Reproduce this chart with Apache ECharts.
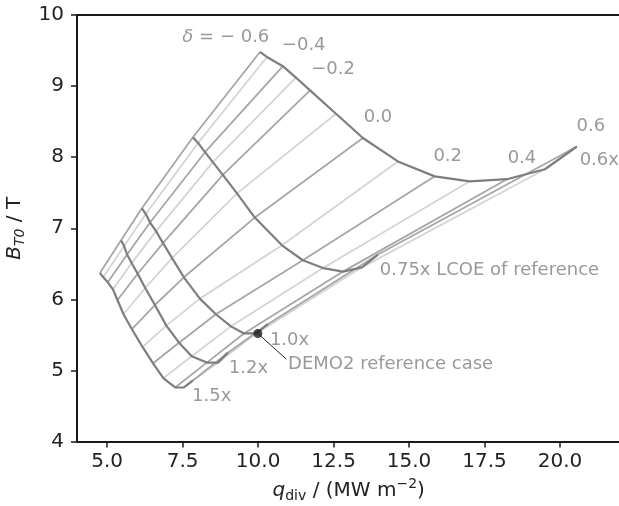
<!DOCTYPE html>
<html><head><meta charset="utf-8">
<script src="https://cdn.jsdelivr.net/npm/echarts@6/dist/echarts.min.js"></script>
<style>html,body{margin:0;padding:0;background:#fff}#c{width:619px;height:506px}</style>
</head><body><div id="c"></div>
<script>
const deltas = [-0.6,-0.5,-0.4,-0.3,-0.2,-0.1,0.0,0.1,0.2,0.3,0.4,0.5,0.6];
const levelNames = ['1.5x','1.2x','1.0x','0.75x','0.6x'];
const q15 = [4.76,4.87,5.02,5.19,5.34,5.54,5.82,6.17,6.52,6.86,7.25,7.54,7.84];
const B15 = [6.37,6.31,6.24,6.14,5.99,5.79,5.58,5.33,5.10,4.89,4.76,4.76,4.86];
const q12 = [5.46,5.56,5.66,5.81,6.01,6.26,6.58,6.96,7.38,7.80,8.30,8.67,9.00];
const B12 = [6.83,6.75,6.63,6.51,6.36,6.16,5.92,5.63,5.39,5.20,5.11,5.11,5.25];
const q10 = [6.15,6.28,6.42,6.62,6.85,7.15,7.54,8.07,8.60,9.10,9.53,9.93,10.32];
const B10 = [7.28,7.20,7.08,6.96,6.79,6.58,6.31,6.01,5.79,5.62,5.52,5.52,5.65];
const q075 = [7.84,8.01,8.24,8.50,8.83,9.30,9.89,10.79,11.48,12.15,12.81,13.44,13.97];
const B075 = [8.28,8.20,8.07,7.93,7.75,7.49,7.15,6.76,6.55,6.44,6.39,6.45,6.63];
const q06 = [10.06,10.29,10.82,11.25,11.72,12.58,13.47,14.63,15.85,17.01,18.24,19.50,20.56];
const B06 = [9.48,9.41,9.28,9.12,8.94,8.61,8.27,7.94,7.73,7.66,7.69,7.83,8.15];

const xTicks = [5.0,7.5,10.0,12.5,15.0,17.5,20.0];
const yTicks = [4,5,6,7,8,9,10];

const demoPoint = [9.99, 5.52];
const demoLeader = [[9.99,5.52],[10.93,5.16]];
const deltaLabels = [
  {t:'delta', x:8.93, y:9.68},
  {t:'−0.4', x:11.51, y:9.58},
  {t:'−0.2', x:12.48, y:9.23},
  {t:'0.0', x:13.97, y:8.56},
  {t:'0.2', x:16.28, y:8.01},
  {t:'0.4', x:18.74, y:7.99},
  {t:'0.6', x:21.02, y:8.44}
];
const levelLabels = [
  {t:'0.6x', x:20.65, y:7.96},
  {t:'0.75x LCOE of reference', x:14.03, y:6.41},
  {t:'1.0x', x:10.39, y:5.42},
  {t:'1.2x', x:9.03, y:5.03},
  {t:'1.5x', x:7.81, y:4.64},
  {t:'DEMO2 reference case', x:10.99, y:5.08}
];

const Q = [q15,q12,q10,q075,q06];
const B = [B15,B12,B10,B075,B06];
const FONT = 'DejaVu Sans';
const series = [];
[1,0].forEach(par => {
  deltas.forEach((d,i) => {
    if (i % 2 !== par) return;
    series.push({
      type:'line', silent:true, symbol:'none', animation:false,
      data: Q.map((qa,k)=>[qa[i], B[k][i]]),
      lineStyle:{color: par===0 ? '#a6a6a6' : '#d4d4d4', width:1.8},
      z: par===0 ? 3 : 2
    });
  });
});
Q.forEach((qa,k) => {
  series.push({
    type:'line', silent:true, symbol:'none', animation:false,
    data: qa.map((q,i)=>[q, B[k][i]]),
    lineStyle:{color:'#7e7e7e', width:2.2}, z:4
  });
});
series.push({type:'line', symbol:'none', animation:false, data:demoLeader,
  lineStyle:{color:'#222', width:1}, z:5});
series.push({type:'scatter', animation:false, data:[demoPoint], symbolSize:9,
  itemStyle:{color:'#1a1a1a'}, z:6});
series.push({type:'scatter', animation:false, symbolSize:0, z:7,
  data: deltaLabels.map(l=>({value:[l.x,l.y], name:l.t})),
  label:{show:true, position:'inside', fontFamily:FONT, fontSize:18, color:'#808080',
    formatter: p => p.name==='delta' ? '{i|δ} = − 0.6' : p.name,
    rich:{i:{fontStyle:'italic', fontFamily:FONT, fontSize:18, color:'#808080'}}}
});
series.push({type:'scatter', animation:false, symbolSize:0, z:7,
  data: levelLabels.map(l=>({value:[l.x,l.y], name:l.t})),
  label:{show:true, position:'right', distance:0, fontFamily:FONT, fontSize:18, color:'#808080',
    formatter: p => p.name}
});

const axisCommon = {
  axisLine:{show:true, onZero:false, lineStyle:{color:'#1a1a1a', width:2}},
  axisTick:{show:true, inside:false, length:6, lineStyle:{color:'#1a1a1a', width:1.5}},
  axisLabel:{color:'#222', fontFamily:FONT, fontSize:20},
  splitLine:{show:false}
};

const chart = echarts.init(document.getElementById('c'), null, {renderer:'canvas'});
chart.setOption({
  animation:false,
  backgroundColor:'#fff',
  grid:{left:77, top:15, width:543.4, height:426.5, containLabel:false, outerBoundsMode:'none'},
  xAxis:[Object.assign({}, axisCommon, {
    type:'value', min:4, max:22, position:'bottom',
    axisTick:Object.assign({}, axisCommon.axisTick, {customValues:xTicks}),
    axisLabel:Object.assign({}, axisCommon.axisLabel, {customValues:xTicks, margin:10, formatter:v=>v.toFixed(1)}),
    name:'{i|q}{s|div} / (MW m{p|−2})', nameLocation:'middle', nameGap:36,
    nameTextStyle:{fontFamily:FONT, fontSize:20, color:'#222',
      rich:{
        i:{fontStyle:'italic', fontFamily:FONT, fontSize:20, color:'#222', lineHeight:26, verticalAlign:'middle'},
        s:{fontFamily:FONT, fontSize:14, color:'#222', lineHeight:26, verticalAlign:'bottom'},
        p:{fontFamily:FONT, fontSize:14, color:'#222', lineHeight:26, verticalAlign:'top'}
      }}
  }), {
    type:'value', min:4, max:22, position:'top',
    axisLine:{show:true, onZero:false, lineStyle:{color:'#1a1a1a', width:2}},
    axisTick:{show:false}, axisLabel:{show:false}, splitLine:{show:false}
  }],
  yAxis:[Object.assign({}, axisCommon, {
    type:'value', min:4, max:10, interval:1,
    axisLabel:Object.assign({}, axisCommon.axisLabel, {margin:13}),
    name:'{i|B}{s|T0} / T', nameLocation:'middle', nameGap:40, nameRotate:90,
    nameTextStyle:{fontFamily:FONT, fontSize:20, color:'#222',
      rich:{
        i:{fontStyle:'italic', fontFamily:FONT, fontSize:20, color:'#222', lineHeight:26, verticalAlign:'middle'},
        s:{fontStyle:'italic', fontFamily:FONT, fontSize:14, color:'#222', lineHeight:26, verticalAlign:'bottom'}
      }}
  })],
  series
});
</script></body></html>
